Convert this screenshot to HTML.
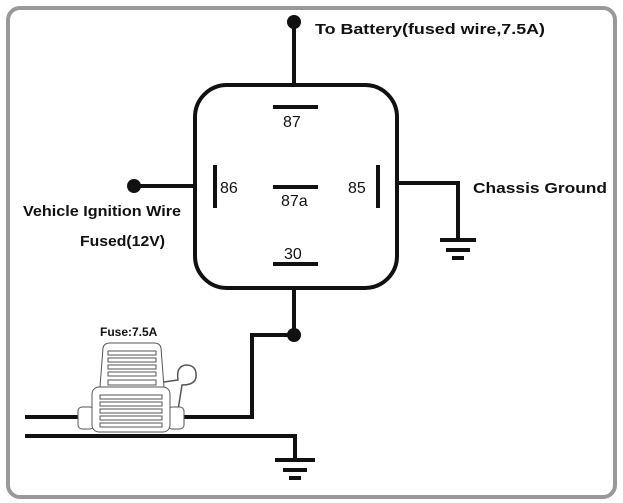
<!DOCTYPE html>
<html><head><style>body{margin:0;background:#fff}svg{display:block}</style></head><body>
<svg width="623" height="503" viewBox="0 0 623 503" xmlns="http://www.w3.org/2000/svg" font-family="Liberation Sans, Arial, sans-serif">
<rect x="8" y="8" width="607" height="489" rx="12" fill="#fff" stroke="#999" stroke-width="4"/>
<g stroke="#111" stroke-width="4" fill="none">
<rect x="195" y="85" width="202" height="203" rx="32"/>
<line x1="294" y1="22" x2="294" y2="85"/>
<line x1="134" y1="186" x2="195" y2="186"/>
<polyline points="397,183 458,183 458,240"/>
<line x1="294" y1="288" x2="294" y2="335"/>
<polyline points="294,335 252,335 252,417 184,417"/>
<line x1="25" y1="417" x2="80" y2="417"/>
<polyline points="25,436 295,436 295,460"/>
<line x1="440" y1="240" x2="476" y2="240"/>
<line x1="446" y1="250" x2="470" y2="250"/>
<line x1="452" y1="258" x2="464" y2="258"/>
<line x1="275" y1="460" x2="315" y2="460"/>
<line x1="283" y1="470" x2="307" y2="470"/>
<line x1="289" y1="478" x2="301" y2="478"/>
<line x1="273" y1="107" x2="318" y2="107"/>
<line x1="273" y1="187" x2="318" y2="187"/>
<line x1="273" y1="264" x2="318" y2="264"/>
<line x1="215" y1="165" x2="215" y2="208"/>
<line x1="378" y1="165" x2="378" y2="208"/>
</g>
<g fill="#111"><circle cx="294" cy="22" r="7"/><circle cx="134" cy="186" r="7"/><circle cx="294" cy="335" r="7"/></g>
<g font-size="16" fill="#111">
<text x="283" y="127">87</text><text x="281" y="206">87a</text><text x="284" y="259">30</text>
<text x="220" y="193">86</text><text x="348" y="193">85</text>
</g>
<g font-weight="bold" font-size="15" fill="#111">
<text x="315" y="34" textLength="230" lengthAdjust="spacingAndGlyphs">To Battery(fused wire,7.5A)</text>
<text x="473" y="193" textLength="134" lengthAdjust="spacingAndGlyphs">Chassis Ground</text>
<text x="23" y="216" textLength="158" lengthAdjust="spacingAndGlyphs">Vehicle Ignition Wire</text>
<text x="80" y="246" textLength="85" lengthAdjust="spacingAndGlyphs">Fused(12V)</text>
<text x="100" y="336" font-size="12">Fuse:7.5A</text>
</g>
<g stroke="#555" stroke-width="1" fill="#fff">
<path d="M100,387 L103,348 Q104,343 110,343 L154,343 Q160,343 161,348 L164,387 Z"/>
<path d="M164,382 L178,380 Q176,366 186,365 Q197,365 196,377 Q195,385 182,385 L178,410" fill="none" stroke-width="1.5"/>
<rect x="78" y="407" width="16" height="22" rx="4"/>
<rect x="168" y="407" width="16" height="22" rx="4"/>
<rect x="92" y="387" width="78" height="45" rx="7"/>
<g fill="none">
<rect x="108" y="351" width="48" height="4"/><rect x="108" y="358" width="48" height="4"/><rect x="108" y="365" width="48" height="4"/><rect x="108" y="372" width="48" height="4"/><rect x="108" y="380" width="48" height="5"/>
<rect x="100" y="395" width="62" height="4"/><rect x="100" y="402" width="62" height="4"/><rect x="100" y="409" width="62" height="4"/><rect x="100" y="416" width="62" height="4"/><rect x="100" y="423" width="62" height="4"/>
</g>
</g>
</svg>
</body></html>
